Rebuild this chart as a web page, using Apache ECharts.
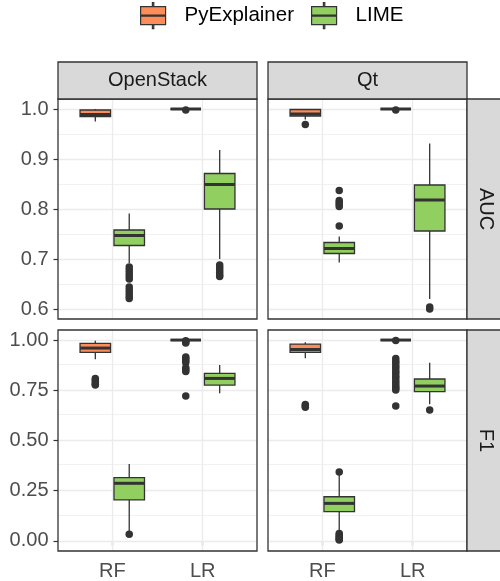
<!DOCTYPE html>
<html>
<head>
<meta charset="utf-8">
<script src="https://cdn.jsdelivr.net/npm/echarts@6/dist/echarts.min.js"></script>
<style>html,body{margin:0;padding:0;background:#fff;}#c{width:500px;height:581px;}</style>
</head>
<body>
<div id="c"></div>
<script>
const categories = ['RF', 'LR'];
const projects = ['OpenStack', 'Qt'];
const metrics = ['AUC', 'F1'];
const methods = ['PyExplainer', 'LIME'];
const aucTicks = [0.6, 0.7, 0.8, 0.9, 1.0];
const aucMinor = [0.65, 0.75, 0.85, 0.95];
const f1Ticks = [0.00, 0.25, 0.50, 0.75, 1.00];
const f1Minor = [0.125, 0.375, 0.625, 0.875];

// box stats per category (RF, LR): [lower whisker, Q1, median, Q3, upper whisker]
const openstackAucPyExplainer = [[0.975, 0.985, 0.989, 0.998, 1.000], [1.000, 1.000, 1.000, 1.000, 1.000]];
const openstackAucLime        = [[0.692, 0.727, 0.747, 0.758, 0.791], [0.700, 0.800, 0.849, 0.871, 0.918]];
const qtAucPyExplainer        = [[0.979, 0.986, 0.990, 0.999, 1.000], [1.000, 1.000, 1.000, 1.000, 1.000]];
const qtAucLime               = [[0.693, 0.711, 0.721, 0.733, 0.745], [0.620, 0.756, 0.818, 0.848, 0.931]];
const openstackF1PyExplainer  = [[0.904, 0.939, 0.960, 0.983, 0.997], [1.000, 1.000, 1.000, 1.000, 1.000]];
const openstackF1Lime         = [[0.045, 0.204, 0.287, 0.315, 0.383], [0.735, 0.776, 0.809, 0.834, 0.876]];
const qtF1PyExplainer         = [[0.909, 0.939, 0.953, 0.980, 0.989], [1.000, 1.000, 1.000, 1.000, 1.000]];
const qtF1Lime                = [[0.045, 0.146, 0.187, 0.220, 0.330], [0.680, 0.743, 0.771, 0.806, 0.887]];

// outliers per category (RF, LR)
const openstackAucPyExplainerOut = [[], [0.998]];
const openstackAucLimeOut        = [[0.684, 0.678, 0.672, 0.666, 0.660, 0.644, 0.638, 0.632, 0.626, 0.621], [0.688, 0.683, 0.678, 0.673, 0.668, 0.665]];
const qtAucPyExplainerOut        = [[0.969], [0.998]];
const qtAucLimeOut               = [[0.837, 0.817, 0.813, 0.809, 0.805, 0.766], [0.604, 0.600]];
const openstackF1PyExplainerOut  = [[0.809, 0.800, 0.790, 0.780, 0.776], [0.996, 0.990, 0.985, 0.916, 0.908, 0.898, 0.888, 0.862, 0.852, 0.843, 0.721]];
const openstackF1LimeOut         = [[0.033], []];
const qtF1PyExplainerOut         = [[0.679, 0.672, 0.665], [0.998, 0.908, 0.895, 0.883, 0.870, 0.858, 0.845, 0.833, 0.820, 0.808, 0.795, 0.783, 0.770, 0.760, 0.751, 0.672]];
const qtF1LimeOut                = [[0.343, 0.037, 0.030, 0.022, 0.015, 0.008, 0.005], [0.652]];

const FONT = 'Liberation Sans, Arial, Helvetica, sans-serif';
const fills = ['#FC8D59', '#91CF60'];
const dodge = [-0.1875, 0.1875];
const boxW = 0.3375;

const panels = [
  {grid: {left: 58, top: 99, width: 199, height: 220}, metric: 0, project: 0, stats: [openstackAucPyExplainer, openstackAucLime], out: [openstackAucPyExplainerOut, openstackAucLimeOut]},
  {grid: {left: 268, top: 99, width: 199, height: 220}, metric: 0, project: 1, stats: [qtAucPyExplainer, qtAucLime], out: [qtAucPyExplainerOut, qtAucLimeOut]},
  {grid: {left: 58, top: 330, width: 199, height: 221}, metric: 1, project: 0, stats: [openstackF1PyExplainer, openstackF1Lime], out: [openstackF1PyExplainerOut, openstackF1LimeOut]},
  {grid: {left: 268, top: 330, width: 199, height: 221}, metric: 1, project: 1, stats: [qtF1PyExplainer, qtF1Lime], out: [qtF1PyExplainerOut, qtF1LimeOut]}
];

const yRange = [[0.58, 1.02], [-0.05, 1.05]];
const yTicks = [aucTicks, f1Ticks];
const yMinor = [aucMinor, f1Minor];
const yFmt = [v => v.toFixed(1), v => v.toFixed(2)];

function renderBox(params, api) {
  const x = api.value(0);
  const lw = api.coord([x, api.value(1)]);
  const q1 = api.coord([x, api.value(2)]);
  const md = api.coord([x, api.value(3)]);
  const q3 = api.coord([x, api.value(4)]);
  const uw = api.coord([x, api.value(5)]);
  const w = api.size([boxW, 0])[0];
  const fill = api.visual('color');
  const ls = {stroke: '#333333', lineWidth: 1.3};
  return {
    type: 'group',
    children: [
      {type: 'line', shape: {x1: q3[0], y1: q3[1], x2: uw[0], y2: uw[1]}, style: ls},
      {type: 'line', shape: {x1: q1[0], y1: q1[1], x2: lw[0], y2: lw[1]}, style: ls},
      {type: 'rect', shape: {x: q3[0] - w / 2, y: q3[1], width: w, height: q1[1] - q3[1]}, style: {fill: fill, stroke: '#333333', lineWidth: 1.3}},
      {type: 'line', shape: {x1: md[0] - w / 2, y1: md[1], x2: md[0] + w / 2, y2: md[1]}, style: {stroke: '#333333', lineWidth: 3}}
    ]
  };
}

const grid = [], xAxis = [], yAxis = [], series = [], graphic = [];
panels.forEach((p, i) => {
  grid.push(Object.assign({show: false}, p.grid));
  const bottom = p.metric === 1, left = p.project === 0;
  xAxis.push({
    gridIndex: i, type: 'value', min: 0.4, max: 2.6,
    axisLine: {show: false}, splitLine: {show: false},
    axisTick: {show: bottom, customValues: [1, 2], length: 4.5, lineStyle: {color: '#333333', width: 1.2}},
    axisLabel: {show: bottom, customValues: [1, 2], formatter: v => categories[Math.round(v) - 1], fontSize: 20, color: '#4D4D4D', margin: 10, fontFamily: FONT}
  });
  yAxis.push({
    gridIndex: i, type: 'value', min: yRange[p.metric][0], max: yRange[p.metric][1],
    axisLine: {show: false}, splitLine: {show: false},
    axisTick: {show: left, customValues: yTicks[p.metric], length: 4.5, lineStyle: {color: '#333333', width: 1.2}},
    axisLabel: {show: left, customValues: yTicks[p.metric], formatter: yFmt[p.metric], fontSize: 20, color: '#4D4D4D', margin: 9.5, fontFamily: FONT}
  });
  const ml = [];
  yMinor[p.metric].forEach(v => ml.push({yAxis: v, lineStyle: {color: '#EBEBEB', width: 0.7, type: 'solid'}}));
  yTicks[p.metric].forEach(v => ml.push({yAxis: v, lineStyle: {color: '#EBEBEB', width: 1.3, type: 'solid'}}));
  categories.forEach((c, k) => ml.push({xAxis: k + 1, lineStyle: {color: '#EBEBEB', width: 1.3, type: 'solid'}}));
  series.push({
    type: 'scatter', xAxisIndex: i, yAxisIndex: i, data: [], silent: true, z: 1,
    markLine: {silent: true, symbol: 'none', z: 1, label: {show: false}, emphasis: {disabled: true}, animation: false, data: ml}
  });
  methods.forEach((m, s) => {
    series.push({
      name: m, type: 'custom', xAxisIndex: i, yAxisIndex: i, z: 3,
      itemStyle: {color: fills[s]},
      renderItem: renderBox,
      encode: {x: 0, y: [1, 2, 3, 4, 5]},
      data: categories.map((c, k) => [k + 1 + dodge[s]].concat(p.stats[s][k]))
    });
  });
  methods.forEach((m, s) => {
    const d = [];
    categories.forEach((c, k) => p.out[s][k].forEach(v => d.push([k + 1 + dodge[s], v])));
    series.push({
      name: m + ' outliers', type: 'scatter', xAxisIndex: i, yAxisIndex: i, z: 4,
      symbolSize: 7.5, itemStyle: {color: '#333333', opacity: 1}, data: d, silent: true
    });
  });
  graphic.push({type: 'rect', z: 100, silent: true, shape: {x: p.grid.left, y: p.grid.top, width: p.grid.width, height: p.grid.height}, style: {fill: 'none', stroke: '#333333', lineWidth: 1.3}});
});

// strips
projects.forEach((name, j) => {
  const g = panels[j].grid;
  graphic.push({type: 'rect', z: 100, silent: true, shape: {x: g.left, y: 62, width: g.width, height: 37}, style: {fill: '#D9D9D9', stroke: '#333333', lineWidth: 1.3}});
  graphic.push({type: 'text', z: 101, silent: true, x: g.left + g.width / 2, y: 80.5, style: {text: name, align: 'center', verticalAlign: 'middle', font: '20px ' + FONT, fill: '#1A1A1A'}});
});
metrics.forEach((name, j) => {
  const g = panels[j * 2 + 1].grid;
  const x0 = g.left + g.width;
  graphic.push({type: 'rect', z: 100, silent: true, shape: {x: x0, y: g.top, width: 38, height: g.height}, style: {fill: '#D9D9D9', stroke: '#333333', lineWidth: 1.3}});
  graphic.push({type: 'text', z: 101, silent: true, x: x0 + 18.5, y: g.top + g.height / 2, rotation: -Math.PI / 2, style: {text: name, align: 'center', verticalAlign: 'middle', font: '20px ' + FONT, fill: '#1A1A1A'}});
});

const option = {
  animation: false,
  backgroundColor: '#ffffff',
  legend: {
    data: methods, left: 140, top: 2, padding: 0, itemWidth: 25, itemHeight: 26, itemGap: 17,
    icon: 'path://M0,4 L25,4 L25,22 L0,22 Z M11.8,0 L13.2,0 L13.2,4 L11.8,4 Z M11.8,22 L13.2,22 L13.2,26 L11.8,26 Z M0,12.4 L25,12.4 L25,13.6 L0,13.6 Z',
    itemStyle: {borderColor: '#333333', borderWidth: 1.2},
    textStyle: {fontSize: 20.5, color: '#000000', fontFamily: FONT, padding: [0, 0, 0, 14]},
    selectedMode: false
  },
  grid, xAxis, yAxis, series, graphic
};
const chart = echarts.init(document.getElementById('c'), null, {renderer: 'canvas'});
chart.setOption(option);
</script>
</body>
</html>
